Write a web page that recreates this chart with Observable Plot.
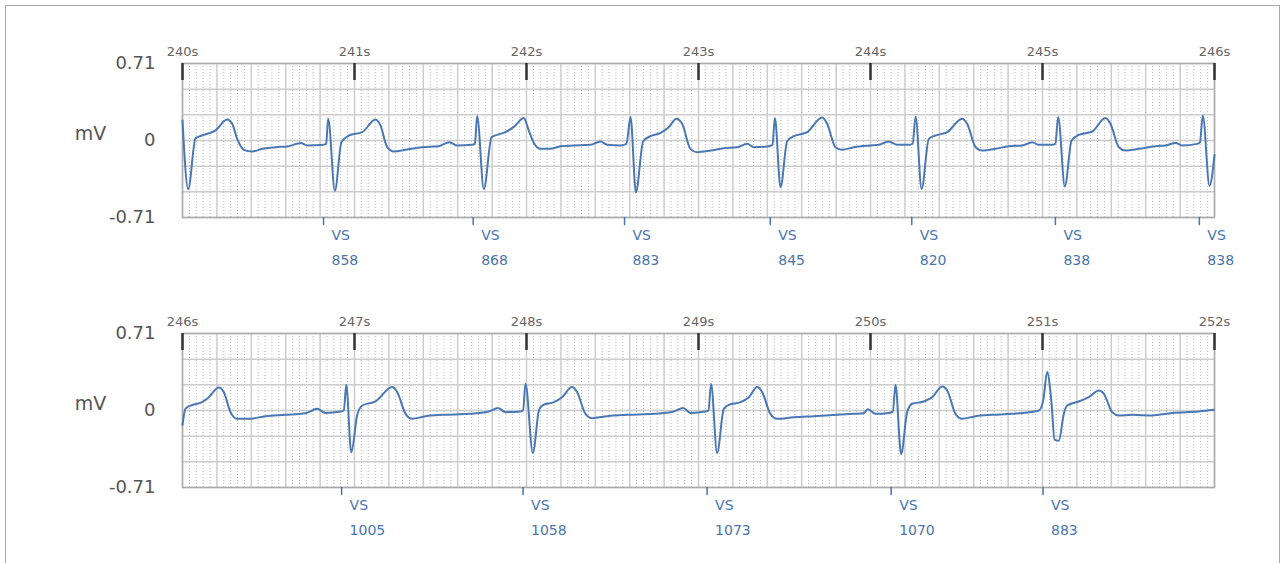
<!DOCTYPE html>
<html><head><meta charset="utf-8">
<script src="https://cdn.jsdelivr.net/npm/d3@7"></script>
<script src="https://cdn.jsdelivr.net/npm/@observablehq/plot@0.6"></script>
<style>
body{margin:0;background:#fff;font-family:"DejaVu Sans",sans-serif;}
#wrap{position:relative;width:1287px;height:563px;overflow:hidden;background:#fff;}
#border{position:absolute;left:5px;top:5px;width:1275px;height:620px;border:1.5px solid #aaa;box-sizing:border-box;}
.panel{position:absolute;left:0;}
</style></head><body><div id="wrap"><div id="border"></div></div>
<script>
// ECG trace: time (s) and amplitude (mV)
const ecgTime = [
240.000,240.033,240.076,240.114,240.192,240.260,240.289,240.318,240.357,240.405,240.463,240.541,240.618,240.686,240.725,240.822,240.835,
240.847,240.886,240.924,240.967,241.045,241.122,241.151,241.190,241.229,241.297,241.393,241.490,241.552,241.597,241.684,241.700,
241.713,241.752,241.797,241.878,241.930,241.984,242.013,242.043,242.081,242.139,242.198,242.275,242.372,242.430,242.469,242.546,242.581,
242.605,242.636,242.678,242.721,242.779,242.827,242.872,242.905,242.953,242.992,243.070,243.147,243.225,243.283,243.322,243.399,243.430,
243.444,243.477,243.515,243.554,243.632,243.719,243.748,243.796,243.835,243.903,244.000,244.049,244.107,244.155,244.223,244.245,
244.262,244.297,244.339,244.378,244.446,244.533,244.562,244.611,244.649,244.727,244.804,244.882,244.940,244.979,245.056,245.075,
245.091,245.130,245.169,245.211,245.289,245.366,245.395,245.444,245.483,245.560,245.657,245.715,245.773,245.812,245.899,245.915,
245.932,245.971,246.000,
246.017,246.047,246.114,246.153,246.211,246.240,246.279,246.318,246.386,246.483,246.599,246.715,246.783,246.831,246.919,246.938,
246.952,246.981,247.016,247.045,247.122,247.219,247.248,247.297,247.335,247.413,247.510,247.665,247.781,247.835,247.878,247.965,247.980,
247.994,248.037,248.072,248.091,248.159,248.207,248.265,248.294,248.343,248.382,248.469,248.585,248.740,248.856,248.911,248.953,249.041,249.058,
249.073,249.108,249.147,249.176,249.244,249.293,249.341,249.370,249.418,249.457,249.554,249.670,249.806,249.903,249.960,249.985,250.029,250.107,250.130,
250.145,250.178,250.213,250.242,250.310,250.359,250.417,250.446,250.494,250.533,250.611,250.707,250.824,250.979,251.005,
251.027,251.052,251.070,251.095,251.124,251.143,251.211,251.269,251.328,251.357,251.405,251.443,251.521,251.638,251.754,251.909,251.996
];
const ecgMv = [
0.185,-0.448,0.022,0.046,0.093,0.194,0.154,0.015,-0.086,-0.102,-0.077,-0.062,-0.052,-0.022,-0.046,-0.040,-0.031,
0.200,-0.463,-0.015,0.046,0.077,0.194,0.139,-0.062,-0.102,-0.086,-0.062,-0.052,-0.015,-0.046,-0.040,-0.031,
0.225,-0.448,0.031,0.077,0.130,0.207,0.093,-0.022,-0.077,-0.077,-0.052,-0.046,-0.040,-0.009,-0.040,-0.046,-0.031,
0.216,-0.478,-0.009,0.040,0.071,0.123,0.201,0.154,-0.077,-0.108,-0.093,-0.071,-0.062,-0.031,-0.062,-0.056,-0.040,
0.207,-0.432,-0.009,0.040,0.077,0.213,0.154,-0.062,-0.086,-0.062,-0.046,-0.040,-0.009,-0.040,-0.040,-0.030,
0.222,-0.448,0.015,0.046,0.077,0.201,0.154,-0.062,-0.093,-0.077,-0.052,-0.046,-0.015,-0.040,-0.040,-0.030,
0.216,-0.423,0.000,0.052,0.083,0.207,0.154,-0.062,-0.093,-0.077,-0.052,-0.046,-0.022,-0.046,-0.031,-0.020,
0.231,-0.417,-0.133,
0.015,0.046,0.077,0.123,0.213,0.170,-0.015,-0.077,-0.077,-0.052,-0.040,-0.025,0.015,-0.022,-0.009,0.000,
0.238,-0.386,-0.040,0.046,0.083,0.216,0.170,-0.031,-0.077,-0.052,-0.040,-0.031,-0.009,0.022,-0.015,-0.009,0.000,
0.247,-0.392,0.000,0.046,0.077,0.123,0.216,0.170,-0.031,-0.071,-0.052,-0.040,-0.031,-0.009,0.022,-0.022,-0.009,0.000,
0.247,-0.392,0.015,0.052,0.077,0.123,0.216,0.170,-0.031,-0.077,-0.062,-0.052,-0.040,-0.031,-0.025,0.012,-0.031,-0.022,-0.010,
0.238,-0.401,-0.015,0.062,0.083,0.123,0.222,0.185,-0.031,-0.077,-0.052,-0.040,-0.031,0.000,0.100,
0.355,0.077,-0.269,-0.278,-0.031,0.046,0.083,0.123,0.185,0.154,-0.015,-0.046,-0.040,-0.046,-0.022,-0.009,0.006
];
// Ventricular sense markers: time (s) and RR interval label (ms)
const beatTime = [240.820, 241.690, 242.570, 243.417, 244.240, 245.075, 245.912, 246.925, 247.980, 249.050, 250.120, 251.003];
const rrMs = [858, 868, 883, 845, 820, 838, 838, 1005, 1058, 1073, 1070, 883];
const markerLabel = "VS";
const panelStart = [240, 246];
const panelSeconds = 6;
const yLimit = 0.71;
const yTickValues = [-0.71, 0, 0.71];
const yUnit = "mV";

const ecg = ecgTime.map((t, i) => ({t, v: ecgMv[i]}));
const beats = beatTime.map((t, i) => ({t, rr: String(rrMs[i])}));
const lineShape = {draw(ctx, l) { ctx.moveTo(0, 0); ctx.lineTo(0, -l); }};
const traceColor = "#4a78b5";
const markColor = "#4a74b0";

const wrap = document.getElementById("wrap");
panelStart.forEach((start, pi) => {
  const end = start + panelSeconds;
  const secondTicks = d3.range(start, end + 0.5, 1);
  const major = d3.range(0, panelSeconds * 5 + 1).map(k => start + k * 0.2);
  const minor = d3.range(0, panelSeconds * 25 + 1).filter(k => k % 5).map(k => start + k * 0.04);
  const yMajor = d3.range(0, 7).map(k => -yLimit + k * (2 * yLimit) / 6);
  const pts = ecg.filter(d => d.t >= start - 1e-9 && d.t <= end + 1e-9);
  const bs = beats.filter(d => d.t >= start && d.t < end + 0.05);
  const svg = Plot.plot({
    width: 1287, height: 290,
    marginLeft: 182, marginRight: 73, marginTop: 63, marginBottom: 73,
    x: {domain: [start, end], axis: null, label: null},
    y: {domain: [-yLimit, yLimit], axis: null, label: null},
    style: {fontFamily: "DejaVu Sans, sans-serif", background: "transparent", overflow: "visible"},
    marks: [
      Plot.gridX(minor, {stroke: "#b5b5b5", strokeOpacity: 1, strokeWidth: 1, strokeDasharray: "1,2"}),
      Plot.gridX(major, {stroke: "#cccccc", strokeOpacity: 1, strokeWidth: 1.5}),
      Plot.gridY(yMajor, {stroke: "#cccccc", strokeOpacity: 1, strokeWidth: 1.5}),
      Plot.frame({stroke: "#aaaaaa", strokeWidth: 1.5}),
      Plot.tickX(secondTicks, {x: d => d, stroke: "#333", strokeWidth: 2.5, insetBottom: 137}),
      Plot.axisX(secondTicks, {anchor: "top", label: null, tickSize: 0, tickPadding: 8, tickFormat: d => d + "s", fontSize: 13, fill: "#666"}),
      Plot.axisY(yTickValues, {anchor: "left", label: null, tickSize: 0, tickPadding: 27, tickFormat: d => d === 0 ? "0" : (d < 0 ? "-" : "") + Math.abs(d).toFixed(2), fontSize: 18, fill: "#555"}),
      Plot.text([yUnit], {text: d => d, frameAnchor: "left", dx: -92, dy: -7, fontSize: 19, fill: "#555", textAnchor: "middle"}),
      Plot.line(pts, {x: "t", y: "v", stroke: traceColor, strokeWidth: 2, curve: "monotone-x"}),
      Plot.vector(bs, {x: "t", frameAnchor: "bottom", length: 7, rotate: 180, anchor: "start", shape: lineShape, stroke: markColor, strokeWidth: 1.5}),
      Plot.text(bs, {x: "t", frameAnchor: "bottom", text: () => markerLabel, dx: 8, dy: 22, textAnchor: "start", fontSize: 14, fill: markColor}),
      Plot.text(bs, {x: "t", frameAnchor: "bottom", text: "rr", dx: 8, dy: 47, textAnchor: "start", fontSize: 14, fill: markColor})
    ]
  });
  svg.classList.add("panel");
  svg.style.top = (pi * 270) + "px";
  wrap.appendChild(svg);
});
</script>
</body></html>
